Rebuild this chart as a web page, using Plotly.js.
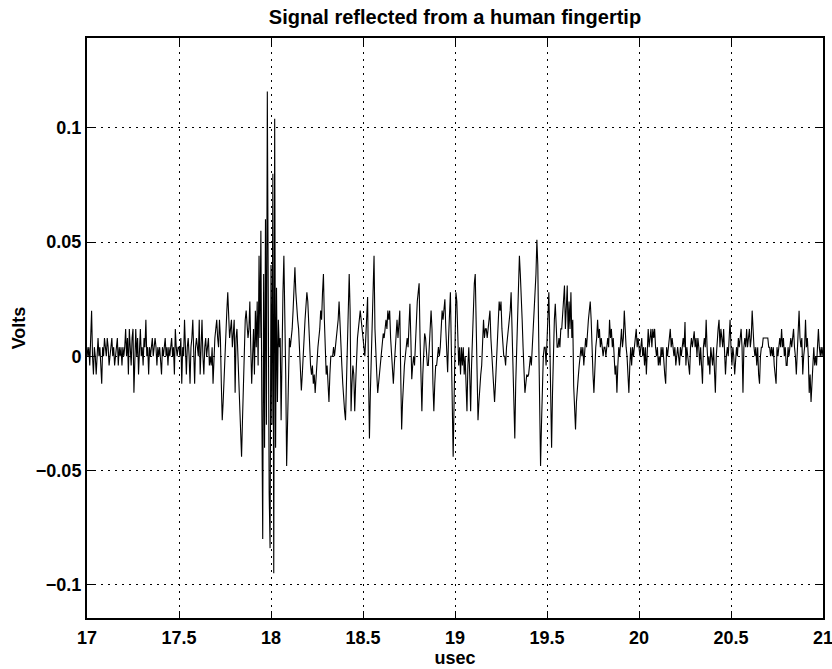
<!DOCTYPE html>
<html>
<head>
<meta charset="utf-8">
<script src="https://cdn.plot.ly/plotly-3.0.1.min.js"></script>
<style>html,body{margin:0;padding:0;background:#fff;}</style>
</head>
<body>
<div id="chart" style="width:832px;height:669px;"></div>
<script>
// Sampling grid of the recorded trace (usec)
const tStart = 17.0;
const tStep = 0.005;

// Signal samples, in millivolts, 20 samples per 0.1 usec
const signal_17_0 = [4,0,4,-4,8,20,0,-8,4,0,-8,4,8,0,4,-4,-12,4,0,8];
const signal_17_1 = [4,0,8,4,-4,0,4,8,0,4,-4,0,4,8,-4,4,0,4,-4,4];
const signal_17_2 = [0,4,12,0,8,-8,12,4,-4,8,12,-16,4,12,0,8,-8,4,12,0];
const signal_17_3 = [4,-4,8,4,16,0,4,-8,4,0,4,8,0,4,8,4,-4,4,0,4];
const signal_17_4 = [-4,-8,4,0,4,8,0,4,-4,4,0,4,8,0,4,-8,12,4,0,4];
const signal_17_5 = [4,0,8,-12,4,0,16,4,-8,4,8,0,-12,4,8,16,0,-12,4,8];
const signal_17_6 = [4,0,16,-8,4,16,0,-8,4,8,0,4,8,-4,0,-4,4,-12,0,8];
const signal_17_7 = [12,16,8,4,16,8,-12,-28,-20,-8,0,12,20,28,16,8,12,16,4,12];
const signal_17_8 = [16,-16,8,12,0,-8,-24,-36,-44,-28,-8,8,16,20,12,8,12,24,4,-12];
const signal_17_9 = [0,12,-8,20,4,24,-4,44,8,55,-20,-80,36,-40,60,-30,116,10,-60,-84];
const signal_18_0 = [40,-30,80,-95,104,-40,30,-20,16,4,8,-28,12,28,44,20,-8,-48,-24,0];
const signal_18_1 = [8,4,8,12,20,30,39,28,20,16,12,4,-8,-15,-8,4,8,16,24,28];
const signal_18_2 = [24,12,4,-4,-8,-4,-12,-8,-16,-8,0,4,8,12,20,16,28,36,16,0];
const signal_18_3 = [-8,-4,-12,-20,-8,0,0,0,4,0,4,8,12,16,24,12,8,-4,-12,-20];
const signal_18_4 = [-24,-28,-8,12,28,36,20,-24,-12,-4,-8,-24,-12,0,8,12,16,20,16,12];
const signal_18_5 = [8,4,0,8,16,26,-8,-36,-16,0,16,32,44,12,-4,-8,-16,-12,-8,-4];
const signal_18_6 = [0,4,10,8,12,16,12,20,16,20,8,0,-8,-12,-4,4,12,16,8,16];
const signal_18_7 = [20,-8,-32,-20,-8,-4,0,4,8,4,16,23,8,-10,-4,0,-4,8,16,24];
const signal_18_8 = [28,32,8,-12,-24,-8,4,10,8,0,-4,-4,8,12,20,12,-12,-24,-12,-4];
const signal_18_9 = [-4,0,4,0,4,12,20,16,20,25,12,-4,-7,8,16,28,4,-24,-44,-20];
const signal_19_0 = [12,28,24,8,-4,4,-8,4,-4,4,-8,0,-12,-24,-4,4,-8,-24,-4,12];
const signal_19_1 = [24,32,36,12,-12,-28,-20,-12,-8,-4,8,16,8,12,12,8,12,16,20,8];
const signal_19_2 = [0,-8,-16,-20,-12,-4,8,16,24,20,24,12,4,0,0,-4,4,8,12,16];
const signal_19_3 = [20,28,8,-12,-28,-36,-12,4,16,24,44,36,28,16,4,-8,-16,-12,-8,-9];
const signal_19_4 = [-8,-4,0,-4,4,12,20,31,36,51,40,8,-20,-48,-30,-8,0,4,4,-4];
const signal_19_5 = [8,20,28,8,-20,-40,-16,4,16,23,12,4,4,8,4,12,12,20,24,31];
const signal_19_6 = [12,24,31,8,24,12,28,8,16,-13,-20,-32,-20,-12,-9,-4,0,4,0,4];
const signal_19_7 = [-4,4,8,4,12,16,20,24,16,-4,-8,-16,-4,4,8,16,8,12,4,8];
const signal_19_8 = [4,0,4,4,0,4,8,4,16,8,12,4,8,0,-8,-4,-16,-4,4,0];
const signal_19_9 = [8,12,4,8,20,8,4,0,-8,-16,-4,4,-4,4,0,4,8,12,4,8];
const signal_20_0 = [4,0,4,8,0,4,-4,4,-8,4,12,4,8,12,4,12,8,12,4,0];
const signal_20_1 = [4,-4,0,-4,4,0,4,-4,-8,-12,4,0,4,8,12,4,8,4,0,4];
const signal_20_2 = [-4,0,4,0,-4,4,0,4,8,4,15,-4,4,0,-4,-8,4,8,4,8];
const signal_20_3 = [11,4,8,0,8,4,-4,4,-8,-12,4,8,4,16,4,-4,0,-8,4,0];
const signal_20_4 = [-4,4,-8,-16,0,8,12,16,4,12,8,4,12,4,-8,0,4,0,8,16];
const signal_20_5 = [4,-4,4,0,-8,0,4,0,8,4,8,12,4,-16,4,8,4,12,4,8];
const signal_20_6 = [12,4,8,20,8,4,0,4,-4,4,-8,-12,0,4,4,8,8,8,8,8];
const signal_20_7 = [8,4,4,0,4,0,4,-4,-8,-12,4,0,4,8,4,12,4,8,0,4];
const signal_20_8 = [-4,-4,4,0,4,8,4,8,12,4,0,-8,4,8,20,8,4,8,-8,0];
const signal_20_9 = [4,16,4,8,0,-16,-8,-20,-12,-4,4,-4,0,-4,4,12,4,0,4,0];
const signal_21_0 = [4];

// Tick labels
const xTickVals = [17, 17.5, 18, 18.5, 19, 19.5, 20, 20.5, 21];
const xTickText = ["17", "17.5", "18", "18.5", "19", "19.5", "20", "20.5", "21"];
const yTickVals = [-0.1, -0.05, 0, 0.05, 0.1];
const yTickText = ["\u22120.1", "\u22120.05", "0", "0.05", "0.1"];

const titleText = "Signal reflected from a human fingertip";
const xLabel = "usec";
const yLabel = "Volts";

const mV = [].concat(
  signal_17_0, signal_17_1, signal_17_2, signal_17_3, signal_17_4,
  signal_17_5, signal_17_6, signal_17_7, signal_17_8, signal_17_9,
  signal_18_0, signal_18_1, signal_18_2, signal_18_3, signal_18_4,
  signal_18_5, signal_18_6, signal_18_7, signal_18_8, signal_18_9,
  signal_19_0, signal_19_1, signal_19_2, signal_19_3, signal_19_4,
  signal_19_5, signal_19_6, signal_19_7, signal_19_8, signal_19_9,
  signal_20_0, signal_20_1, signal_20_2, signal_20_3, signal_20_4,
  signal_20_5, signal_20_6, signal_20_7, signal_20_8, signal_20_9,
  signal_21_0
);
const volts = mV.map(v => v / 1000);
const time = mV.map((v, i) => +(tStart + i * tStep).toFixed(4));

const axisCommon = {
  ticks: 'inside',
  ticklen: 7,
  tickwidth: 1,
  tickcolor: '#000',
  showline: true,
  linewidth: 2,
  linecolor: '#000',
  mirror: 'ticks',
  showgrid: true,
  gridcolor: '#000',
  gridwidth: 1,
  griddash: '2px,5px',
  zeroline: false,
  fixedrange: true,
  ticklabeloverflow: 'allow'
};

const font = {family: '"Liberation Sans", Arial, Helvetica, sans-serif', size: 18, color: '#000', weight: 700};

const layout = {
  width: 832,
  height: 669,
  margin: {l: 87, r: 9, t: 38, b: 51, pad: 0},
  paper_bgcolor: '#fff',
  plot_bgcolor: '#fff',
  font: font,
  showlegend: false,
  title: {
    text: titleText,
    font: {family: font.family, size: 20, color: '#000', weight: 700},
    x: 0.5, xref: 'paper', xanchor: 'center',
    y: 1 - 17 / 669, yref: 'container', yanchor: 'middle'
  },
  xaxis: Object.assign({}, axisCommon, {
    range: [17, 21],
    tickmode: 'array',
    tickvals: xTickVals,
    ticktext: xTickText,
    ticklabelstandoff: 2,
    title: {text: xLabel, font: font, standoff: 4}
  }),
  yaxis: Object.assign({}, axisCommon, {
    range: [-0.1146, 0.1394],
    tickmode: 'array',
    tickvals: yTickVals,
    ticktext: yTickText,
    title: {text: yLabel, font: font, standoff: 6}
  })
};

const trace = {
  type: 'scatter',
  mode: 'lines',
  x: time,
  y: volts,
  line: {color: '#000', width: 1.1},
  hoverinfo: 'skip',
  cliponaxis: true
};

Plotly.newPlot('chart', [trace], layout, {staticPlot: true, displayModeBar: false});
</script>
</body>
</html>
